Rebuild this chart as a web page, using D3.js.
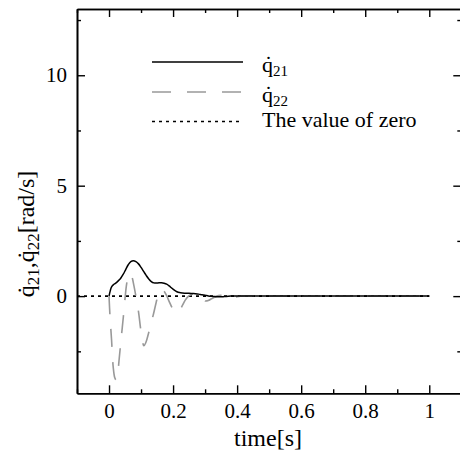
<!DOCTYPE html>
<html>
<head>
<meta charset="utf-8">
<script src="https://cdn.jsdelivr.net/npm/d3@7"></script>
<style>
  html, body { margin: 0; padding: 0; background: #fff; }
  svg { display: block; }
</style>
</head>
<body>
<svg id="chart" width="460" height="460"></svg>
<script>
// Joint velocity of q21 (solid) — time [s] and value [rad/s]
const t21 = [0, 0.004, 0.008, 0.014, 0.02, 0.028, 0.036, 0.044, 0.052, 0.06, 0.068, 0.076, 0.084, 0.092,
  0.1, 0.108, 0.116, 0.124, 0.132, 0.14, 0.148, 0.156, 0.164, 0.172, 0.18, 0.188, 0.196, 0.204, 0.212,
  0.22, 0.23, 0.24, 0.25, 0.26, 0.27, 0.28, 0.29, 0.3, 0.31, 0.32, 0.33, 0.34, 0.35, 0.36, 0.38, 0.4,
  0.45, 0.5, 0.6, 0.7, 0.8, 0.9, 1.0];
const q21 = [0, 0.25, 0.42, 0.52, 0.58, 0.68, 0.8, 0.98, 1.2, 1.42, 1.56, 1.6, 1.56, 1.46,
  1.3, 1.12, 0.94, 0.78, 0.66, 0.6, 0.59, 0.6, 0.6, 0.58, 0.54, 0.46, 0.36, 0.27, 0.2,
  0.16, 0.14, 0.13, 0.13, 0.12, 0.11, 0.09, 0.06, 0.04, 0.01, -0.01, -0.02, -0.03, -0.03, -0.02, 0, 0,
  0, 0, 0, 0, 0, 0, 0];

// Joint velocity of q22 (dashed)
const t22 = [0, 0.003, 0.008, 0.013, 0.018, 0.022, 0.027, 0.032, 0.038, 0.045, 0.05, 0.055, 0.06, 0.066,
  0.072, 0.078, 0.085, 0.092, 0.098, 0.103, 0.109, 0.115, 0.123, 0.131, 0.139, 0.147, 0.154, 0.16,
  0.166, 0.173, 0.18, 0.188, 0.196, 0.206, 0.214, 0.222, 0.23, 0.238, 0.25, 0.262, 0.273, 0.281,
  0.289, 0.3, 0.31, 0.32, 0.336, 0.35, 0.367, 0.38, 0.39, 0.41, 0.45, 0.5, 0.6, 0.7, 0.8, 0.9, 1.0];
const q22 = [0, -0.9, -2.0, -3.2, -3.7, -3.8, -3.5, -2.8, -1.9, -0.9, -0.1, 0.55, 0.9, 1.03,
  0.85, 0.45, -0.1, -0.7, -1.4, -1.95, -2.25, -2.1, -1.7, -1.25, -0.8, -0.3, 0.1, 0.28,
  0.3, 0.2, 0.02, -0.25, -0.5, -0.75, -0.72, -0.6, -0.4, -0.18, 0.02, 0.1, 0.12, 0.05,
  -0.1, -0.22, -0.2, -0.12, 0, 0.04, 0.04, -0.03, -0.05, 0, 0.01, 0, 0, 0, 0, 0, 0];

// Reference line at zero
const zeroLine = [[-0.1, 0], [1.0, 0]];

// Tick values
const xMajor = [0, 0.2, 0.4, 0.6, 0.8, 1];
const xMinor = [-0.1, 0.1, 0.3, 0.5, 0.7, 0.9, 1.1];
const xLabels = ["0", "0.2", "0.4", "0.6", "0.8", "1"];
const yMajor = [0, 5, 10];
const yMinor = [-2.5, 2.5, 7.5, 12.5];
const yLabels = ["0", "5", "10"];

const legendLabels = [
  { base: "q\u0307", sub: "21" },
  { base: "q\u0307", sub: "22" },
  { base: "The value of zero", sub: "" }
];

const SERIF = "Liberation Serif";
const svg = d3.select("#chart");
const x = d3.scaleLinear().domain([-0.1, 1.1]).range([77, 461.3]);
const y = d3.scaleLinear().domain([-4.4, 13]).range([393.3, 9]);

const FS = 21;

function styleAxis(g) {
  g.attr("font-family", SERIF).attr("font-size", FS);
  g.selectAll("path.domain").attr("stroke", "#000").attr("stroke-width", 1.6);
  g.selectAll(".tick line").attr("stroke", "#000").attr("stroke-width", 1.4);
  g.selectAll(".tick text").attr("fill", "#000");
}

// Bottom axis
svg.append("g").attr("transform", `translate(0,${y.range()[0]})`)
  .call(d3.axisBottom(x).tickValues(xMajor).tickFormat((d, i) => xLabels[i]).tickSize(-8).tickSizeOuter(0).tickPadding(10))
  .call(styleAxis);
svg.append("g").attr("transform", `translate(0,${y.range()[0]})`)
  .call(d3.axisBottom(x).tickValues(xMinor).tickFormat("").tickSize(-4).tickSizeOuter(0))
  .call(styleAxis);
// Top axis
svg.append("g").attr("transform", `translate(0,${y.range()[1]})`)
  .call(d3.axisTop(x).tickValues(xMajor).tickFormat("").tickSize(-8).tickSizeOuter(0))
  .call(styleAxis);
svg.append("g").attr("transform", `translate(0,${y.range()[1]})`)
  .call(d3.axisTop(x).tickValues(xMinor).tickFormat("").tickSize(-4).tickSizeOuter(0))
  .call(styleAxis);
// Left axis
svg.append("g").attr("transform", `translate(${x.range()[0]},0)`)
  .call(d3.axisLeft(y).tickValues(yMajor).tickFormat((d, i) => yLabels[i]).tickSize(-8).tickSizeOuter(0).tickPadding(10))
  .call(styleAxis);
svg.append("g").attr("transform", `translate(${x.range()[0]},0)`)
  .call(d3.axisLeft(y).tickValues(yMinor).tickFormat("").tickSize(-4).tickSizeOuter(0))
  .call(styleAxis);
// Right axis
svg.append("g").attr("transform", `translate(${x.range()[1]},0)`)
  .call(d3.axisRight(y).tickValues(yMajor).tickFormat("").tickSize(-8).tickSizeOuter(0))
  .call(styleAxis);
svg.append("g").attr("transform", `translate(${x.range()[1]},0)`)
  .call(d3.axisRight(y).tickValues(yMinor).tickFormat("").tickSize(-4).tickSizeOuter(0))
  .call(styleAxis);

// Curves
const line = d3.line().x(d => x(d[0])).y(d => y(d[1])).curve(d3.curveCatmullRom.alpha(0.5));
const lineStraight = d3.line().x(d => x(d[0])).y(d => y(d[1]));

svg.append("path").datum(zeroLine).attr("d", lineStraight)
  .attr("fill", "none").attr("stroke", "#000").attr("stroke-width", 1.6).attr("stroke-dasharray", "3,4");

svg.append("path").datum(t22.map((t, i) => [t, q22[i]])).attr("d", line)
  .attr("fill", "none").attr("stroke", "#999").attr("stroke-width", 1.6).attr("stroke-dasharray", "18,15");

svg.append("path").datum(t21.map((t, i) => [t, q21[i]])).attr("d", line)
  .attr("fill", "none").attr("stroke", "#000").attr("stroke-width", 1.5);

// Legend
const legendStyles = [
  { stroke: "#000", dash: null },
  { stroke: "#999", dash: "19,16" },
  { stroke: "#000", dash: "3,4" }
];
const legendY = [62, 92, 121.5];
const legendTextY = [71.5, 101.5, 127];
const lg = svg.append("g").attr("font-family", SERIF).attr("font-size", 20.6);
legendLabels.forEach((lab, i) => {
  lg.append("line").attr("x1", 152).attr("x2", 243).attr("y1", legendY[i]).attr("y2", legendY[i])
    .attr("stroke", legendStyles[i].stroke).attr("stroke-width", 1.6)
    .attr("stroke-dasharray", legendStyles[i].dash);
  const tx = lg.append("text").attr("x", 262).attr("y", legendTextY[i]);
  tx.append("tspan").attr("font-size", 22).text(lab.base);
  if (lab.sub) tx.append("tspan").attr("dy", 4).attr("font-size", 15).text(lab.sub);
});

// Axis titles
svg.append("text").attr("x", 268).attr("y", 446).attr("text-anchor", "middle")
  .attr("font-family", SERIF).attr("font-size", 24).text("time[s]");

const yt = svg.append("text").attr("transform", "translate(34,234) rotate(-90)")
  .attr("text-anchor", "middle").attr("font-family", SERIF).attr("font-size", 24);
yt.append("tspan").text("q\u0307");
yt.append("tspan").attr("dy", 5).attr("font-size", 17).text("21");
yt.append("tspan").attr("dy", -5).text(",q\u0307");
yt.append("tspan").attr("dy", 5).attr("font-size", 17).text("22");
yt.append("tspan").attr("dy", -5).text("[rad/s]");
</script>
</body>
</html>
